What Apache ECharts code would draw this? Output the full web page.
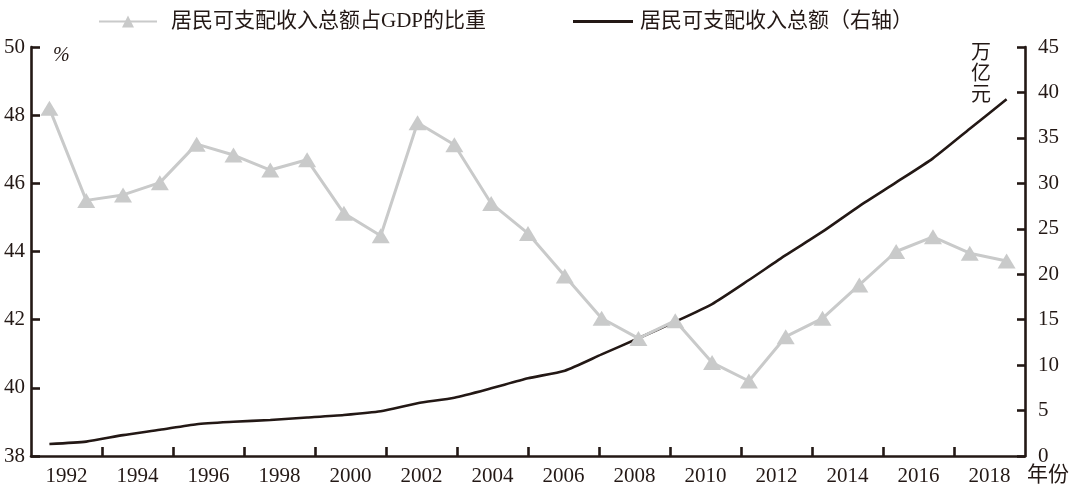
<!DOCTYPE html>
<html>
<head>
<meta charset="utf-8">
<script src="https://cdn.jsdelivr.net/npm/echarts@6/dist/echarts.min.js"></script>
<style>
html,body{margin:0;padding:0;background:#fff;}
#chart{width:1080px;height:503px;}
</style>
</head>
<body>
<div id="chart"></div>
<script>
// ---- data ----
var years = ['1992','1993','1994','1995','1996','1997','1998','1999','2000','2001','2002','2003','2004','2005','2006','2007','2008','2009','2010','2011','2012','2013','2014','2015','2016','2017','2018'];
var shareOfGDP = [48.2,45.5,45.66,46.02,47.15,46.83,46.39,46.69,45.12,44.46,47.78,47.13,45.41,44.53,43.28,42.04,41.45,41.97,40.74,40.2,41.5,42.04,43.02,44.0,44.43,43.95,43.72];
var totalIncome = [1.32,1.58,2.3,2.88,3.5,3.76,3.96,4.23,4.51,4.92,5.8,6.42,7.45,8.55,9.39,11.18,12.95,14.78,16.72,19.36,22.1,24.68,27.5,30.1,32.75,36.0,39.25];
var tickLabels = ['1992','1994','1996','1998','2000','2002','2004','2006','2008','2010','2012','2014','2016','2018'];
var seriesNames = ['居民可支配收入总额占GDP的比重','居民可支配收入总额（右轴）'];

var INK = '#231815';
var GREY = '#c9caca';
var latin = '"Liberation Serif","Noto Sans CJK SC",serif';
var cjk = '"Liberation Serif","Noto Sans CJK SC",sans-serif';

var labelPos = tickLabels.map(function(_, i){ return 1 + 2*i; });
var tickPos = [];
for (var k = 2; k <= 26; k += 2) tickPos.push(k);

var chart = echarts.init(document.getElementById('chart'), null, {renderer:'canvas'});
chart.setOption({
  animation: false,
  backgroundColor: '#fff',
  grid: {left: 31, right: 55, top: 47, bottom: 47, containLabel: false},
  legend: [
    {
      data: [seriesNames[0]], left: 98, top: 11, padding: 0,
      itemWidth: 58, itemHeight: 15, itemGap: 0,
      textStyle: {fontSize: 21, color: INK, fontFamily: cjk, padding: [0,0,0,9]}
    },
    {
      data: [{name: seriesNames[1], icon: 'rect'}], left: 573, top: 11, padding: 0,
      itemWidth: 60, itemHeight: 3, itemGap: 0,
      textStyle: {fontSize: 21, color: INK, fontFamily: cjk, padding: [0,0,0,2]}
    }
  ],
  xAxis: [
    {
      type: 'category', data: years, boundaryGap: true, show: false
    },
    {
      type: 'value', min: 0, max: 28, interval: 1, position: 'bottom',
      axisLine: {show: true, lineStyle: {color: INK, width: 2.6}},
      axisTick: {show: true, inside: true, length: 9, lineStyle: {color: INK, width: 2.6}, customValues: tickPos},
      axisLabel: {
        show: true, margin: 10, fontSize: 21, color: INK, fontFamily: latin,
        customValues: labelPos,
        formatter: function(v){ return tickLabels[(v - 1) / 2] || ''; }
      },
      splitLine: {show: false}
    }
  ],
  yAxis: [
    {
      type: 'value', min: 38, max: 50, interval: 2, position: 'left',
      axisLine: {show: true, lineStyle: {color: INK, width: 2.6}},
      axisTick: {show: true, inside: true, length: 9, lineStyle: {color: INK, width: 2.6}},
      axisLabel: {margin: 6, fontSize: 21, color: INK, fontFamily: latin},
      splitLine: {show: false}
    },
    {
      type: 'value', min: 0, max: 45, interval: 5, position: 'right',
      axisLine: {show: true, lineStyle: {color: INK, width: 2.6}},
      axisTick: {show: true, inside: true, length: 8, lineStyle: {color: INK, width: 2.6}},
      axisLabel: {margin: 13, fontSize: 21, color: INK, fontFamily: latin},
      splitLine: {show: false}
    }
  ],
  graphic: [
    {type: 'text', left: 53, top: 46, style: {text: '%', fontSize: 20, fontStyle: 'italic', fill: INK, fontFamily: latin}},
    {type: 'text', left: 971, top: 43, style: {text: '万\n亿\n元', fontSize: 20, lineHeight: 21, fill: INK, fontFamily: cjk}},
    {type: 'text', left: 1027, top: 465, style: {text: '年份', fontSize: 21, fill: INK, fontFamily: cjk}}
  ],
  series: [
    {
      name: seriesNames[0], type: 'line', xAxisIndex: 0, yAxisIndex: 0,
      data: shareOfGDP, symbol: 'triangle', symbolSize: [18, 15], showSymbol: true,
      lineStyle: {color: GREY, width: 3}, itemStyle: {color: GREY}, z: 3
    },
    {
      name: seriesNames[1], type: 'line', xAxisIndex: 0, yAxisIndex: 1,
      data: totalIncome, symbol: 'none', smooth: 0.2,
      lineStyle: {color: INK, width: 2.6}, itemStyle: {color: INK}, z: 2
    }
  ]
});
</script>
</body>
</html>
